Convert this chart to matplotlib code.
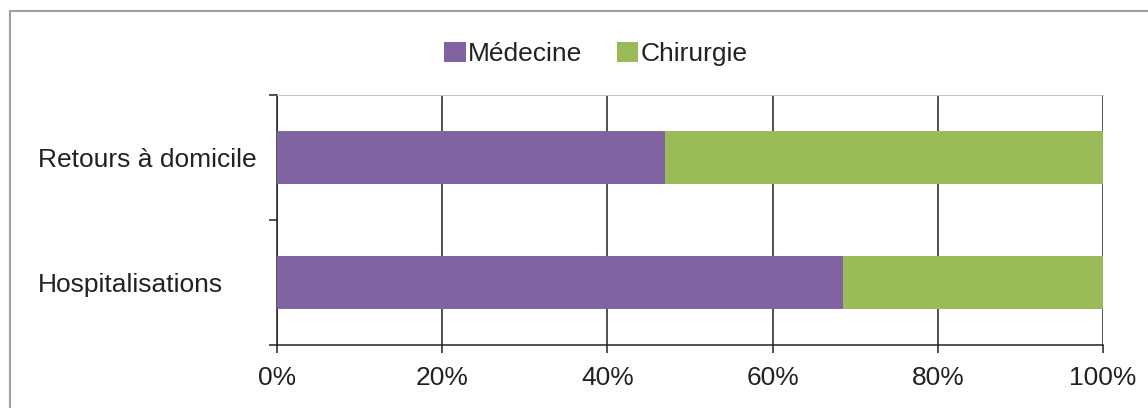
import matplotlib.pyplot as plt
from matplotlib.patches import Rectangle
import numpy as np

plt.rcParams['font.family'] = ['Liberation Sans', 'DejaVu Sans']

categories = ['Hospitalisations', 'Retours à domicile']
medecine = [68.5, 47.0]
chirurgie = [31.5, 53.0]
xtick_vals = [0, 20, 40, 60, 80, 100]
xtick_labels = ['0%', '20%', '40%', '60%', '80%', '100%']

col_med = '#8064a2'
col_chir = '#9bbb59'
fs = 19

fig = plt.figure(figsize=(11.48, 4.08), dpi=100)
# cadre gris autour du graphique
fig.patches.append(Rectangle((10 / 1148, -0.1), 1.2, 1 - 11 / 408 + 0.1, transform=fig.transFigure,
                             fill=False, edgecolor='#a0a0a0', linewidth=1.5))

ax = fig.add_axes([277 / 1148, 1 - 345 / 408, 826 / 1148, 250 / 408])

y = np.arange(len(categories))
ax.barh(y, medecine, height=0.42, color=col_med, label='Médecine', zorder=3)
ax.barh(y, chirurgie, left=medecine, height=0.42, color=col_chir, label='Chirurgie', zorder=3)

ax.set_xlim(0, 100)
ax.set_ylim(-0.5, 1.5)

ax.set_xticks(xtick_vals)
ax.set_xticklabels(xtick_labels, fontsize=fs, color='#222222')
ax.xaxis.grid(True, color='#222222', linewidth=1.1, zorder=0)

ax.set_yticks([-0.5, 0.5, 1.5])
ax.set_yticklabels([])
ax.set_yticks(y, minor=True)
ax.set_yticklabels(categories, minor=True, fontsize=fs, ha='left', color='#222222')
ax.tick_params(axis='y', which='minor', length=0, pad=(277 - 38) * 0.72)
ax.tick_params(axis='y', which='major', length=6, width=1.1, color='#222222')
ax.tick_params(axis='x', length=6, width=1.1, color='#222222', pad=9)

ax.spines['top'].set_color('#c8c8c8')
ax.spines['right'].set_visible(False)
ax.spines['left'].set_color('#222222')
ax.spines['bottom'].set_color('#222222')
ax.spines['left'].set_linewidth(1.1)
ax.spines['bottom'].set_linewidth(1.1)

fig.legend(loc='center', bbox_to_anchor=(596 / 1148, 1 - 54 / 408), ncol=2, frameon=False,
           fontsize=fs, handlelength=0.8, handleheight=0.8, handletextpad=0.1, columnspacing=1.3,
           labelcolor='#222222')

fig.savefig('out.png', dpi=100)
